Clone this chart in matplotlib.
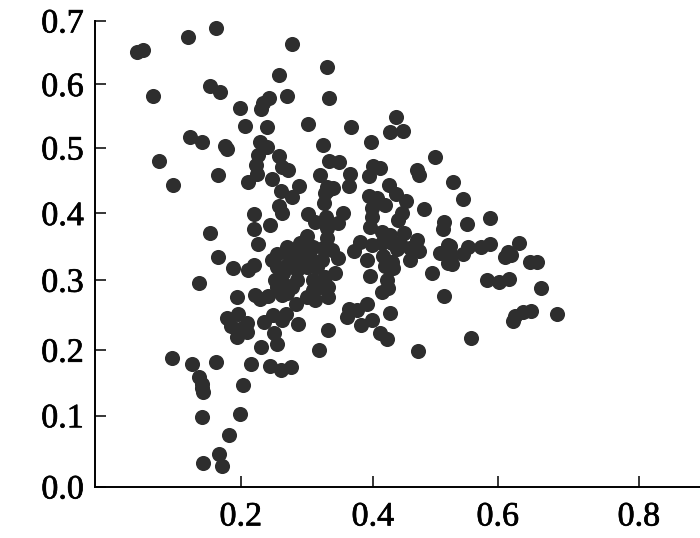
import numpy as np
import matplotlib
matplotlib.use("Agg")
import matplotlib.pyplot as plt
import matplotlib.patheffects as pe

x_vals = [.058,.066,.128,.166,.080,.158,.172,.199,.207,.130,.147,.178,.181,.088,.169,.107,
.278,.331,.258,.270,.334,.243,.234,.231,.437,.302,.240,.367,.448,.428,.397,.229,.240,.325,.226,.258,.223,.334,.349,.263,.272,.400,.412,.394,.320,.365,.471,.474,.225,.247,.211,.426,.364,.331,.340,.288,.261,.437,.278,.258,.263,.220,.244,.220,.226,.158,.169,.190,.211,.220,.143,
.332,.328,.326,.302,.355,.312,.329,.347,.331,.394,.407,.420,.399,.399,.396,.453,.447,.440,.482,.514,.513,.551,.588,.528,.544,.500,
.300,.270,.255,.247,.331,.338,.347,.343,.332,.332,.313,.300,.270,.255,.252,.264,.285,.310,.320,.290,.305,.275,.285,.310,.300,.285,.270,.323,.328,.310,.255,.290,.315,.294,.325,.267,.278,.263,.284,
.380,.372,.399,.415,.428,.450,.471,.474,.460,.444,.460,.415,.431,.416,.439,.432,.420,.431,.392,.396,.495,.508,.520,.520,.514,.423,.424,.415,.391,.376,.364,.361,.399,.382,.412,.423,.428,.332,.319,.473,
.195,.222,.229,.241,.249,.269,.263,.235,.287,.181,.196,.187,.210,.210,.195,.199,.250,.255,.231,.106,.133,.166,.216,.245,.261,.276,.143,.147,.147,.148,.203,.147,.199,.184,.170,.148,.175,
.524,.526,.527,.544,.552,.573,.588,.630,.615,.619,.610,.646,.656,.583,.602,.616,.661,.647,.636,.625,.622,.684,.557]

y_vals = [.651,.654,.674,.689,.582,.597,.588,.563,.534,.517,.509,.503,.498,.480,.458,.443,
.663,.627,.615,.582,.578,.578,.570,.561,.548,.538,.532,.533,.527,.524,.509,.509,.501,.504,.489,.487,.473,.480,.478,.471,.466,.472,.469,.457,.458,.460,.466,.458,.460,.452,.447,.443,.442,.440,.439,.442,.434,.429,.425,.411,.400,.399,.383,.376,.354,.370,.334,.318,.315,.322,.296,
.435,.431,.415,.399,.400,.387,.394,.385,.378,.427,.423,.413,.408,.394,.379,.418,.400,.390,.407,.387,.377,.384,.393,.448,.422,.486,
.366,.349,.339,.330,.363,.345,.333,.310,.290,.276,.271,.276,.281,.290,.300,.310,.300,.300,.290,.330,.334,.334,.345,.349,.319,.315,.322,.330,.304,.286,.319,.355,.319,.340,.348,.293,.290,.279,.266,
.357,.344,.352,.372,.367,.370,.360,.344,.330,.355,.348,.355,.355,.336,.346,.318,.321,.327,.330,.306,.310,.340,.352,.325,.277,.300,.289,.283,.266,.257,.259,.247,.243,.236,.224,.216,.253,.229,.200,.199,
.276,.279,.273,.277,.250,.251,.243,.240,.237,.246,.251,.234,.238,.226,.218,.230,.224,.208,.205,.188,.179,.182,.179,.175,.170,.174,.159,.148,.142,.136,.147,.098,.102,.073,.046,.033,.029,
.351,.337,.324,.339,.349,.349,.354,.355,.342,.337,.334,.327,.327,.300,.297,.301,.289,.256,.254,.249,.241,.251,.217]

x_ticks = [0.2, 0.4, 0.6, 0.8]
y_ticks = [0.0, 0.1, 0.2, 0.3, 0.4, 0.5, 0.6, 0.7]

# The printed axes are not evenly spaced: scale anchors follow the printed ticks
x_anchor_val = [0.0, 0.2, 0.4, 0.6, 0.8, 0.887]
x_anchor_pos = [0.0, 146.0, 278.0, 403.0, 544.0, 605.3]
y_anchor_val = [0.0, 0.1, 0.2, 0.3, 0.4, 0.5, 0.6, 0.7]
y_anchor_pos = [0.0, 71.2, 136.7, 206.7, 273.4, 339.0, 402.4, 466.0]

plt.rcParams['font.family'] = ['Liberation Serif', 'DejaVu Serif']

W, H = 700, 538
fig = plt.figure(figsize=(W / 100, H / 100), dpi=100, facecolor='white')
ax = fig.add_axes([94.7 / W, (H - 486.7) / H, (W - 94.7) / W, 466.0 / H])

ax.set_xscale('function', functions=(lambda v: np.interp(v, x_anchor_val, x_anchor_pos),
                                     lambda p: np.interp(p, x_anchor_pos, x_anchor_val)))
ax.set_yscale('function', functions=(lambda v: np.interp(v, y_anchor_val, y_anchor_pos),
                                     lambda p: np.interp(p, y_anchor_pos, y_anchor_val)))

ax.scatter(x_vals, y_vals, s=118, c='#2e2e2e', linewidths=0, zorder=3, clip_on=False)

ax.set_xlim(0.0, 0.887)
ax.set_ylim(0.0, 0.7)
ax.set_xticks(x_ticks, [f'{t:.1f}' for t in x_ticks])
ax.set_yticks(y_ticks, [f'{t:.1f}' for t in y_ticks])
ax.minorticks_off()
ax.tick_params(axis='both', direction='in', length=7.7, width=1.1, labelsize=24.5, colors='black')
ax.tick_params(axis='x', pad=11)
ax.tick_params(axis='y', pad=8)
for label in ax.get_xticklabels() + ax.get_yticklabels():
    label.set_path_effects([pe.withStroke(linewidth=0.5, foreground='black')])
for side in ('top', 'right'):
    ax.spines[side].set_visible(False)
for side in ('left', 'bottom'):
    ax.spines[side].set_linewidth(1.4)

fig.savefig('out.png', dpi=100, facecolor='white')
